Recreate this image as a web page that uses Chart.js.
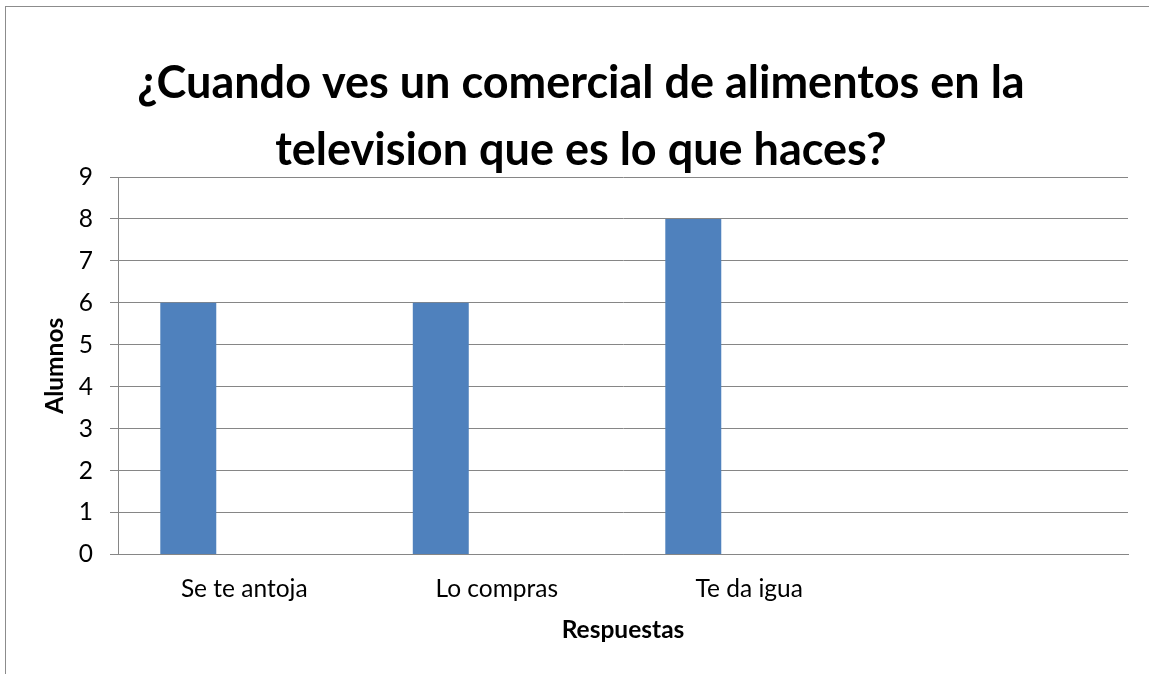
<!DOCTYPE html>
<html>
<head>
<meta charset="utf-8">
<script src="https://cdn.jsdelivr.net/npm/chart.js@4.4.1/dist/chart.umd.min.js"></script>
<style>
  html, body { margin: 0; padding: 0; background: #fff; overflow: hidden; }
  body { width: 1149px; height: 674px; position: relative; }
  #frame { position: absolute; left: 5px; top: 6px; width: 1200px; height: 700px;
           border-left: 1px solid #8c8c8c; border-top: 1px solid #8c8c8c; }
  #box { position: absolute; left: 5px; top: 6px; width: 1152px; height: 668px; }
</style>
</head>
<body>
<div id="frame"></div>
<div id="box"><canvas id="chart"></canvas></div>
<script>
// data
const respuestas = ['Se te antoja', 'Lo compras', 'Te da igua', ''];
const alumnos = [6, 6, 8, null];
const serie2 = [null, null, null, null];
const serie3 = [null, null, null, null];
const yTicks = [0, 1, 2, 3, 4, 5, 6, 7, 8, 9];

const titulo = ['¿Cuando ves un comercial de alimentos en la', 'television que es lo que haces?'];
const FONT = 'Lato, "Open Sans", sans-serif';
const GRID = '#868686';

const bar = (data) => ({
  data: data,
  backgroundColor: '#4f81bd',
  borderWidth: 0,
  categoryPercentage: 0.665,
  barPercentage: 1
});

const chart = new Chart(document.getElementById('chart').getContext('2d'), {
  type: 'bar',
  data: {
    labels: respuestas,
    datasets: [bar(alumnos), bar(serie2), bar(serie3)]
  },
  options: {
    responsive: true,
    maintainAspectRatio: false,
    animation: false,
    devicePixelRatio: 1,
    layout: { padding: { left: 29, right: 29, top: 0, bottom: 0 } },
    plugins: {
      legend: { display: false },
      tooltip: { enabled: false },
      title: {
        display: true,
        text: titulo,
        color: '#000',
        font: { family: FONT, size: 45, weight: 'bold', lineHeight: 1.489 },
        padding: { top: 43.5, bottom: -6.5 }
      }
    },
    scales: {
      x: {
        grid: { display: false },
        border: { display: true, color: GRID, width: 1 },
        ticks: { color: '#000', font: { family: FONT, size: 24.5 }, padding: 12, maxRotation: 0 },
        title: {
          display: true, text: 'Respuestas', color: '#000',
          font: { family: FONT, size: 24.5, weight: 'bold' },
          padding: { top: 0, bottom: 29 }
        },
        afterFit: (s) => { s.height = 119.5; }
      },
      y: {
        min: 0,
        max: 9,
        afterBuildTicks: (s) => { s.ticks = yTicks.map(v => ({ value: v })); },
        grid: { color: GRID, lineWidth: 1, tickLength: 8, drawTicks: true },
        border: { display: true, color: GRID, width: 1 },
        ticks: { color: '#000', font: { family: FONT, size: 24.5 }, padding: 17 },
        title: {
          display: true, text: 'Alumnos', color: '#000',
          font: { family: FONT, size: 24.5, weight: 'bold' },
          padding: { top: 6.3, bottom: 0 }
        },
        afterFit: (s) => { s.width = 84; }
      }
    }
  }
});
</script>
</body>
</html>
